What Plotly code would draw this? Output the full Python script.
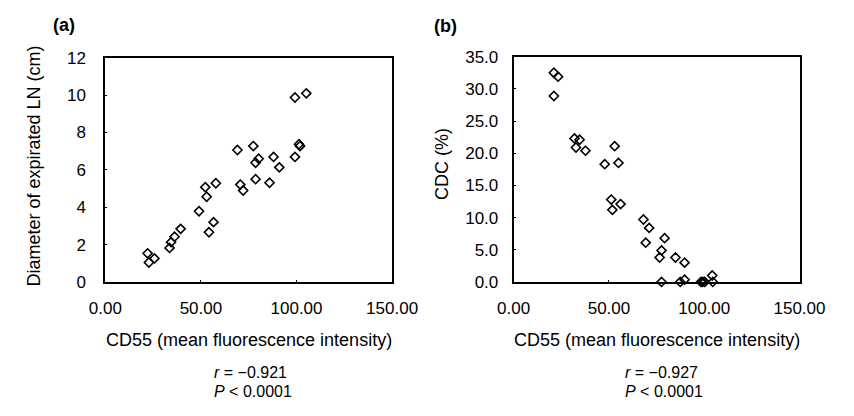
import plotly.graph_objects as go

# Panel (a): CD55 vs diameter of expirated LN
cd55_a = [22.1, 22.8, 25.7, 33.6, 34.4, 36.2, 39.4, 49.0, 52.3, 53.0, 57.8, 54.2, 56.6,
          69.1, 70.6, 72.1, 77.4, 78.6, 78.6, 80.2, 85.9, 88.0, 91.0, 99.2, 99.2, 101.3, 101.8, 105.1]
diam_a = [1.53, 1.04, 1.26, 1.82, 2.13, 2.42, 2.84, 3.78, 5.07, 4.56, 5.28, 2.66, 3.20,
          7.06, 5.21, 4.89, 7.27, 5.50, 6.38, 6.59, 5.31, 6.69, 6.13, 6.69, 9.87, 7.37, 7.27, 10.09]

# Panel (b): CD55 vs CDC (%)
cd55_b = [21.1, 23.3, 21.1, 31.9, 34.6, 32.7, 37.7, 47.8, 53.0, 55.0, 51.2, 51.8, 56.1,
          68.1, 71.1, 69.3, 79.2, 77.6, 76.6, 84.9, 89.7, 77.6, 87.4, 89.7, 98.3, 99.3, 100.3, 104.2, 104.5]
cdc_b = [32.5, 31.9, 28.9, 22.3, 22.1, 20.9, 20.4, 18.3, 21.1, 18.5, 12.8, 11.2, 12.1,
         9.7, 8.4, 6.1, 6.8, 4.9, 3.8, 3.8, 3.0, 0.0, 0.0, 0.35, 0.0, 0.0, 0.0, 1.0, 0.0]

x_ticks = [0, 50, 100, 150]
x_tick_text = ["0.00", "50.00", "100.00", "150.00"]
ya_ticks = [0, 2, 4, 6, 8, 10, 12]
yb_ticks = [0, 5, 10, 15, 20, 25, 30, 35]
yb_tick_text = ["0.0", "5.0", "10.0", "15.0", "20.0", "25.0", "30.0", "35.0"]

W, H = 854, 416
FONT = "Liberation Sans, Arial, sans-serif"

def px(x):
    return x / W

def py(y):
    return 1 - y / H

marker = dict(symbol="diamond-open", size=7, color="black", line=dict(width=1.6, color="black"))

fig = go.Figure()
fig.add_trace(go.Scatter(x=cd55_a, y=diam_a, mode="markers", marker=marker,
                         xaxis="x", yaxis="y", cliponaxis=False, showlegend=False))
fig.add_trace(go.Scatter(x=cd55_b, y=cdc_b, mode="markers", marker=marker,
                         xaxis="x2", yaxis="y2", cliponaxis=False, showlegend=False))

axis_common = dict(showline=True, mirror=True, linecolor="black", linewidth=2,
                   showgrid=False, zeroline=False, ticks="inside", ticklen=2,
                   tickcolor="black", tickfont=dict(family=FONT, size=17, color="black"))

fig.update_layout(
    width=W, height=H,
    margin=dict(l=0, r=0, t=0, b=0),
    paper_bgcolor="white", plot_bgcolor="white",
    xaxis=dict(domain=[px(93), px(395)], range=[0, 150], tickvals=x_ticks,
               ticktext=x_tick_text, anchor="y", ticklabelstandoff=10, **axis_common),
    yaxis=dict(domain=[py(286), py(51)], range=[0, 12], tickvals=ya_ticks,
               anchor="x", ticklabelstandoff=14, **axis_common),
    xaxis2=dict(domain=[px(523), px(824)], range=[0, 150], tickvals=x_ticks,
                ticktext=x_tick_text, anchor="y2", ticklabelstandoff=10, **axis_common),
    yaxis2=dict(domain=[py(286), py(50)], range=[0, 35], tickvals=yb_ticks,
                ticktext=yb_tick_text, anchor="x2", ticklabelstandoff=10, **axis_common),
)

tf = dict(family=FONT, size=18, color="black")
sf = dict(family=FONT, size=16, color="black")
ann = [
    dict(text="<b>(a)</b>", x=px(50), y=py(17), font=tf),
    dict(text="<b>(b)</b>", x=px(451), y=py(18), font=tf),
    dict(text="Diameter of expirated LN (cm)", x=px(18), y=py(165), textangle=-90, font=tf),
    dict(text="CDC (%)", x=px(447), y=py(162), textangle=-90, font=tf),
    dict(text="CD55 (mean fluorescence intensity)", x=px(244), y=py(347), font=tf),
    dict(text="CD55 (mean fluorescence intensity)", x=px(674), y=py(347), font=tf),
    dict(text="<i>r</i> = \u22120.921", x=px(205), y=py(381), xanchor="left", font=sf),
    dict(text="<i>P</i> < 0.0001", x=px(205), y=py(401), xanchor="left", font=sf),
    dict(text="<i>r</i> = \u22120.927", x=px(638), y=py(381), xanchor="left", font=sf),
    dict(text="<i>P</i> < 0.0001", x=px(638), y=py(401), xanchor="left", font=sf),
]
for a in ann:
    a.setdefault("xanchor", "center")
    a["yanchor"] = "middle"
    a["xref"] = "paper"
    a["yref"] = "paper"
    a["showarrow"] = False
fig.update_layout(annotations=ann)

fig.write_html("out.html", config={"displayModeBar": False},
               post_script="document.body.style.margin='0';")
